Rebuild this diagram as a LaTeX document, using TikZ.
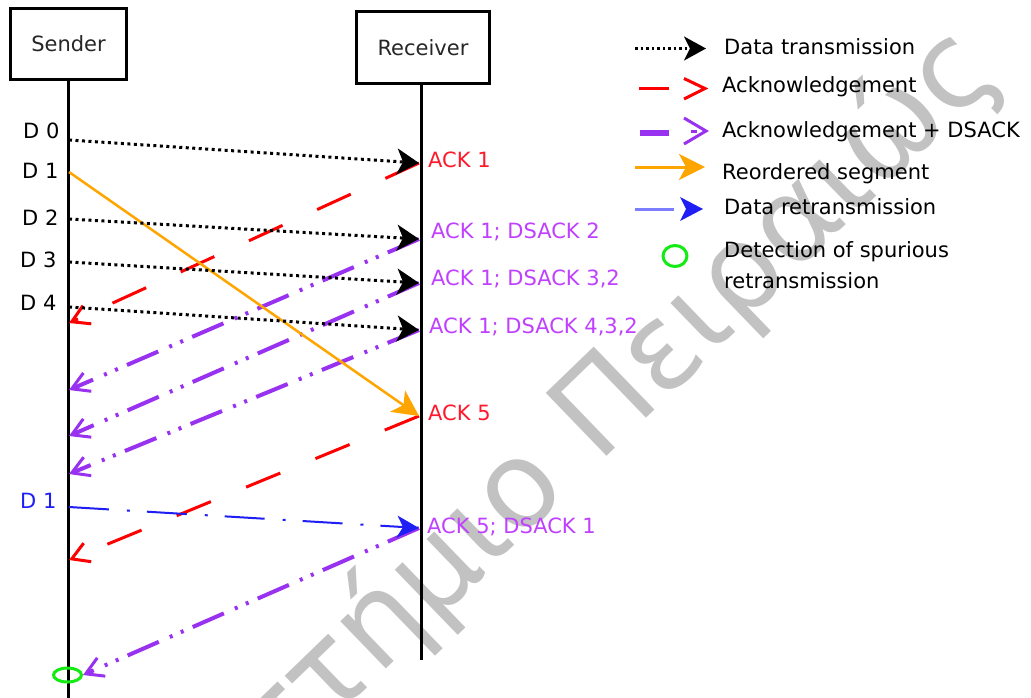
\documentclass[tikz,border=0pt]{standalone}
\usepackage{fontspec}
\setmainfont{DejaVu Sans}
\newfontfamily\wmfont{DejaVu Sans}
\usetikzlibrary{arrows.meta,shapes.geometric}
\definecolor{ackred}{RGB}{255,0,0}
\definecolor{acktxt}{RGB}{255,25,45}
\definecolor{pline}{RGB}{153,50,240}
\definecolor{ptxt}{RGB}{192,64,255}
\definecolor{orng}{RGB}{255,165,0}
\definecolor{rblue}{RGB}{30,30,245}
\definecolor{lblue}{RGB}{125,125,255}
\definecolor{grn}{RGB}{20,235,20}
\definecolor{wmgray}{RGB}{194,194,194}
\newcommand\lblfont{\fontsize{21}{25}\selectfont}
\tikzset{
  actor/.style={draw, line width=3pt, inner sep=0pt, font=\lblfont, text=black!85},
  life/.style={line width=3pt},
  datasg/.style={line width=3pt, dash pattern=on 3pt off 3.5pt, -{Stealth[length=22pt,width=26pt,inset=6pt]}},
  reord/.style={orng, line width=2.5pt, -{Stealth[length=26pt,width=26pt,inset=7pt]}},
  retr/.style={rblue, line width=2pt, dash pattern=on 40pt off 18pt on 3pt off 17pt, -{Stealth[length=22pt,width=22pt,inset=6pt]}},
  ackr/.style={ackred, line width=3pt, dash pattern=on 37pt off 38pt, -{Straight Barb[length=17pt,width=20pt,line width=3pt]}},
  ackp/.style={pline, line width=4pt, dash pattern=on 34pt off 10pt on 3pt off 9pt on 3pt off 12pt, -{Straight Barb[length=17pt,width=20pt,line width=3pt]}},
  dlbl/.style={font=\lblfont, anchor=base west, inner sep=0pt},
  albl/.style={font=\lblfont, anchor=base west, inner sep=0pt},
  leg/.style={font=\lblfont, anchor=base west, inner sep=0pt, align=left},
  wm/.style={text=wmgray, rotate=44, inner sep=0pt, font=\wmfont\fontsize{120}{120}\selectfont},
}
\begin{document}
\begin{tikzpicture}[x=1pt,y=-1pt]
\useasboundingbox (0,0) rectangle (1031,697);
\clip (0,0) rectangle (1031,697);
\fill[white] (0,0) rectangle (1031,697);

% watermark
\node[wm, anchor=base west] (wmB) at (598,465) {Πειραιώς};
\node[wm, anchor=base east] (wmA) at (wmB.base west) {Πανεπιστήμιο\hspace*{0.32em}};

% actors and lifelines
\node[actor, minimum width=116pt, minimum height=71pt] (snd) at (68.5,44) {Sender};
\node[actor, minimum width=133pt, minimum height=72pt] (rcv) at (423,47.5) {Receiver};
\coordinate (sbot) at (68.5,700);
\coordinate (rtop) at (421,83.5);
\coordinate (rbot) at (421,660);
\draw[life] (snd.south) -- (sbot);
\draw[life] (rtop) -- (rbot);

% event points
\coordinate (sD0) at (69,140);  \coordinate (rD0) at (419,163);
\coordinate (sD1) at (69,172);  \coordinate (rD1) at (419,416);
\coordinate (sD2) at (69,219);  \coordinate (rD2) at (419,239);
\coordinate (sD3) at (69,262);  \coordinate (rD3) at (419,283);
\coordinate (sD4) at (69,307);  \coordinate (rD4) at (419,330);
\coordinate (sR1) at (69,507);  \coordinate (rR1) at (419,528);
\coordinate (aA1) at (69,323);
\coordinate (aP2) at (69,390);
\coordinate (aP3) at (69,436);
\coordinate (aP4) at (69,474);
\coordinate (aA5) at (69,560);
\node[draw=grn, line width=3pt, ellipse, minimum width=28pt, minimum height=14pt, inner sep=0pt] (det) at (67.5,675) {};

% acknowledgements
\draw[ackr] (rD0) -- (aA1);
\draw[ackp] (rD2) -- (aP2);
\draw[ackp] (rD3) -- (aP3);
\draw[ackp] (rD4) -- (aP4);
\draw[ackr] (rD1) -- (aA5);
\draw[ackp] (rR1) -- (det.east);

% data
\draw[datasg] (sD0) -- (rD0);
\draw[reord] (sD1) -- (rD1);
\draw[datasg] (sD2) -- (rD2);
\draw[datasg] (sD3) -- (rD3);
\draw[datasg] (sD4) -- (rD4);
\draw[retr] (sR1) -- (rR1);

% sender labels
\node[dlbl] (d0) at (23,138) {D 0};
\node[dlbl] (d1) at (22,178) {D 1};
\node[dlbl] (d2) at (22,225) {D 2};
\node[dlbl] (d3) at (20,267) {D 3};
\node[dlbl] (d4) at (20,310) {D 4};
\node[dlbl, text=rblue] (d1r) at (20,508) {D 1};

% receiver labels
\node[albl, text=acktxt] (l1) at (428,167) {ACK 1};
\node[albl, text=ptxt] (l2) at (431,238) {ACK 1; DSACK 2};
\node[albl, text=ptxt] (l3) at (431,285) {ACK 1; DSACK 3,2};
\node[albl, text=ptxt] (l4) at (429,333) {ACK 1; DSACK 4,3,2};
\node[albl, text=acktxt] (l5) at (428,420) {ACK 5};
\node[albl, text=ptxt] (l6) at (427,533) {ACK 5; DSACK 1};

% legend symbols
\draw[line width=2.5pt, dash pattern=on 2.5pt off 3pt, -{Stealth[length=22pt,width=24pt,inset=6pt]}] (635,48.5) -- (706,48.5);
\draw[ackred, line width=3.5pt] (639,88.5) -- (669,88.5);
\draw[ackred, line width=3pt, line join=miter] (684,78.5) -- (705,88.5) -- (684,99);
\draw[pline, line width=6.5pt] (640,133) -- (669,133);
\draw[pline, line width=3pt] (691,131) -- (697,131);
\draw[pline, line width=3pt] (684,118) -- (706,131) -- (684,144);
\draw[orng, line width=3pt, -{Stealth[length=26pt,width=26pt,inset=7pt]}] (635,167) -- (705,167);
\draw[lblue, line width=3pt] (635,209) -- (674,209);
\fill[rblue] (680,197) -- (703,209) -- (680,221) -- (686,209) -- cycle;
\node[draw=grn, line width=3pt, ellipse, minimum width=24pt, minimum height=21pt, inner sep=0pt] (lgdet) at (675,256) {};

% legend texts
\node[leg] (t1) at (724,54) {Data transmission};
\node[leg] (t2) at (722,92) {Acknowledgement};
\node[leg] (t3) at (722,137) {Acknowledgement + DSACK};
\node[leg] (t4) at (722,179) {Reordered segment};
\node[leg] (t5) at (724,214) {Data retransmission};
\node[leg, font=\fontsize{21}{31}\selectfont] (t6) at (724,288) {Detection of spurious\\retransmission};
\end{tikzpicture}
\end{document}
